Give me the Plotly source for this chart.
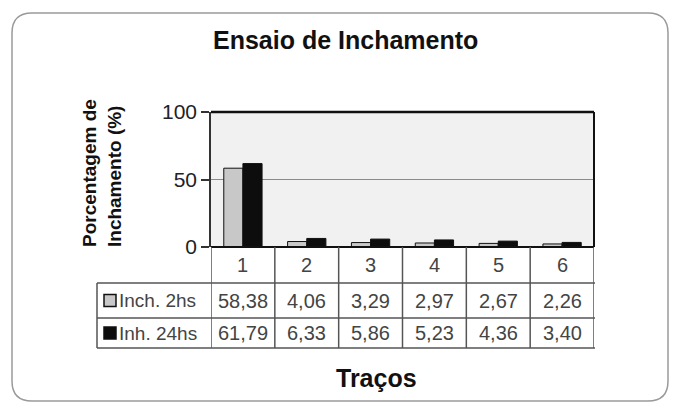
import plotly.graph_objects as go

# Swelling test data (percent), per trace number
categories = ["1", "2", "3", "4", "5", "6"]
series_names = ["Inch. 2hs", "Inh. 24hs"]
swell_2h = [58.38, 4.06, 3.29, 2.97, 2.67, 2.26]
swell_24h = [61.79, 6.33, 5.86, 5.23, 4.36, 3.40]
y_ticks = [0, 50, 100]

W, H = 678, 404
FONT = "Liberation Sans, Arial, sans-serif"
GREY_FILL = "#c8c8c8"
BLACK_FILL = "#0d0d0d"
TABLE_LINE = "#555555"
TEXT_GREY = "#444444"


def px(x):
    return x / W


def py(y):
    return 1 - y / H


def fmt(v):
    return f"{v:.2f}".replace(".", ",")


plot_l, plot_r, plot_t, plot_b = 211, 594, 112, 247
row_y = [247, 283, 318, 348]   # table row boundaries (pixels)
legend_l = 97

fig = go.Figure()
fig.add_trace(go.Bar(x=categories, y=swell_2h, name=series_names[0],
                     marker=dict(color=GREY_FILL, line=dict(color="#111", width=1))))
fig.add_trace(go.Bar(x=categories, y=swell_24h, name=series_names[1],
                     marker=dict(color=BLACK_FILL, line=dict(color="#111", width=1))))

shapes = []
# rounded outer frame of the chart
fl, fr, ft, fb, r = 12, 668, 13, 401, 20
path = (f"M {px(fl + r)},{py(ft)} L {px(fr - r)},{py(ft)} "
        f"Q {px(fr)},{py(ft)} {px(fr)},{py(ft + r)} L {px(fr)},{py(fb - r)} "
        f"Q {px(fr)},{py(fb)} {px(fr - r)},{py(fb)} L {px(fl + r)},{py(fb)} "
        f"Q {px(fl)},{py(fb)} {px(fl)},{py(fb - r)} L {px(fl)},{py(ft + r)} "
        f"Q {px(fl)},{py(ft)} {px(fl + r)},{py(ft)} Z")
shapes.append(dict(type="path", path=path, xref="paper", yref="paper",
                   line=dict(color="#9a9a9a", width=1.5), layer="below"))


def pline(x0, y0, x1, y1, color, width):
    shapes.append(dict(type="line", xref="paper", yref="paper",
                       x0=px(x0), y0=py(y0), x1=px(x1), y1=py(y1),
                       line=dict(color=color, width=width)))


# plot-area border
pline(plot_l, plot_t, plot_r, plot_t, "#111", 2.5)
pline(plot_r, plot_t, plot_r, plot_b, "#111", 2)
pline(plot_l, plot_b, plot_r, plot_b, "#111", 2)

# data table grid: vertical lines at category boundaries
n = len(categories)
for i in range(n + 1):
    shapes.append(dict(type="line", xref="x", yref="paper",
                       x0=i - 0.5, x1=i - 0.5, y0=py(plot_b), y1=py(row_y[-1]),
                       line=dict(color=TABLE_LINE, width=1.5)))
# legend column left edge and row separators
pline(legend_l, row_y[1], legend_l, row_y[-1], TABLE_LINE, 1.5)
for yy in row_y[1:]:
    pline(legend_l, yy, plot_r + 1, yy, TABLE_LINE, 1.5)

# legend swatches inside the table
key_colors = [GREY_FILL, BLACK_FILL]
for k, col in enumerate(key_colors):
    cy = (row_y[k + 1] + row_y[k + 2]) / 2
    shapes.append(dict(type="rect", xref="paper", yref="paper",
                       x0=px(104), x1=px(116), y0=py(cy + 6), y1=py(cy - 6),
                       fillcolor=col, line=dict(color="#111", width=1.5)))


def note(text, x, y, size, color, xref="paper", **kw):
    opts = dict(text=text, x=x, y=y, xref=xref, yref="paper", showarrow=False,
                xanchor="center", yanchor="middle",
                font=dict(family=FONT, size=size, color=color))
    opts.update(kw)
    return opts


annotations = [
    note("<b>Ensaio de Inchamento</b>", px(345), py(40), 25, "#111"),
    note("<b>Traços</b>", px(376), py(378), 25, "#111"),
    note("<b>Porcentagem de<br>Inchamento (%)</b>", px(102), py(249), 19, "#111",
         yanchor="bottom", textangle=-90, align="left"),
]

# header row with category labels
hy = (row_y[0] + row_y[1]) / 2
for i, c in enumerate(categories):
    annotations.append(note(c, i, py(hy), 20, TEXT_GREY, xref="x"))
# value rows
for k, (name, vals) in enumerate(zip(series_names, [swell_2h, swell_24h])):
    cy = (row_y[k + 1] + row_y[k + 2]) / 2
    annotations.append(note(name, px(117), py(cy), 19, TEXT_GREY, xanchor="left"))
    for i, v in enumerate(vals):
        annotations.append(note(fmt(v), i, py(cy), 20, TEXT_GREY, xref="x"))

fig.update_layout(
    width=W, height=H,
    margin=dict(l=0, r=0, t=0, b=0, pad=0, autoexpand=False),
    paper_bgcolor="white", plot_bgcolor="#f1f1f1",
    barmode="group", bargap=0.4, bargroupgap=0,
    showlegend=False,
    xaxis=dict(type="category", range=[-0.5, n - 0.5], automargin=False,
               domain=[px(plot_l), px(plot_r)], showticklabels=False,
               showgrid=False, zeroline=False, ticks=""),
    yaxis=dict(range=[0, 100], domain=[py(plot_b), py(plot_t)], automargin=False,
               tickvals=y_ticks, ticks="outside", ticklen=8, tickwidth=1.5,
               tickcolor="#333", showline=True, linecolor="#333", linewidth=1.5,
               gridcolor="#8a8a8a", gridwidth=1.2, zeroline=False,
               tickfont=dict(family=FONT, size=21, color="#222")),
    shapes=shapes, annotations=annotations,
)

fig.write_html("out.html")
